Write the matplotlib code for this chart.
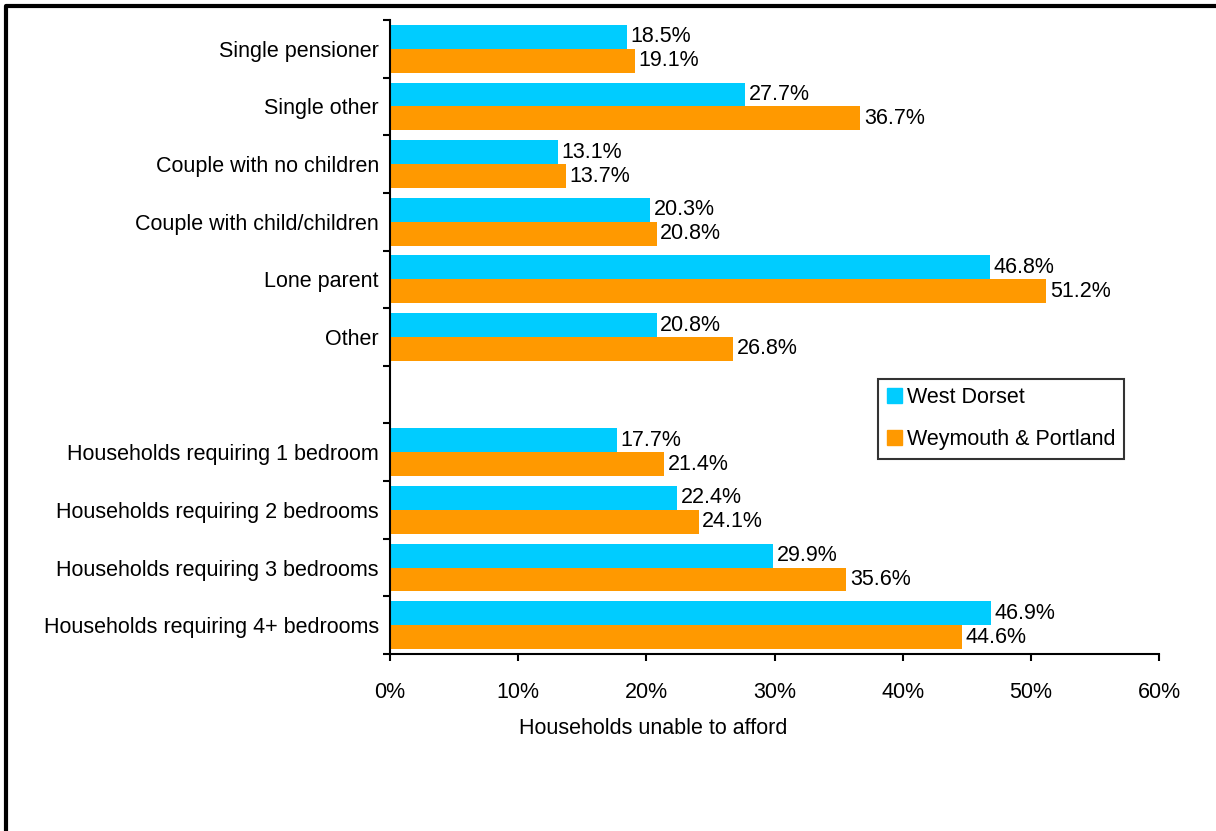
import os

os.environ.setdefault("MPLCONFIGDIR", "/tmp/matplotlib")

import matplotlib.pyplot as plt
import numpy as np
from matplotlib.lines import Line2D
from matplotlib.ticker import FixedLocator, FuncFormatter

# household groups; the empty entry leaves a gap between the two blocks
categories = [
    "Single pensioner",
    "Single other",
    "Couple with no children",
    "Couple with child/children",
    "Lone parent",
    "Other",
    "",
    "Households requiring 1 bedroom",
    "Households requiring 2 bedrooms",
    "Households requiring 3 bedrooms",
    "Households requiring 4+ bedrooms",
]
west_dorset = [18.5, 27.7, 13.1, 20.3, 46.8, 20.8, None, 17.7, 22.4, 29.9, 46.9]
weymouth = [19.1, 36.7, 13.7, 20.8, 51.2, 26.8, None, 21.4, 24.1, 35.6, 44.6]
series_names = ["West Dorset", "Weymouth & Portland"]
x_ticks = [0, 10, 20, 30, 40, 50, 60]

BLUE = "#00CCFF"
ORANGE = "#FF9900"
FS = 15.5

plt.rcParams["font.family"] = ["Liberation Sans", "DejaVu Sans"]

fig = plt.figure(figsize=(12.16, 8.31), dpi=100)
ax = fig.add_axes([390 / 1216, 1 - 654 / 831, (1159 - 390) / 1216, (654 - 20) / 831])

bar_h = 0.415
pos = np.arange(len(categories))
for i, (a, b) in enumerate(zip(west_dorset, weymouth)):
    if a is None:
        continue
    ax.barh(i - bar_h / 2, a, height=bar_h, color=BLUE, edgecolor="none")
    ax.barh(i + bar_h / 2, b, height=bar_h, color=ORANGE, edgecolor="none")
    ax.annotate(f"{a:.1f}%", (a, i - bar_h / 2), xytext=(2.5, 0), textcoords="offset points",
                va="center", ha="left", fontsize=FS)
    ax.annotate(f"{b:.1f}%", (b, i + bar_h / 2), xytext=(2.5, 0), textcoords="offset points",
                va="center", ha="left", fontsize=FS)

ax.set_xlim(0, 60)
ax.set_ylim(len(categories) - 0.5, -0.5)
ax.xaxis.set_major_locator(FixedLocator(x_ticks))
ax.xaxis.set_major_formatter(FuncFormatter(lambda v, p: f"{v:.0f}%"))
ax.set_yticks(pos)
ax.set_yticklabels(categories)
ax.yaxis.set_minor_locator(FixedLocator(np.arange(len(categories) + 1) - 0.5))
ax.tick_params(axis="y", which="major", length=0, pad=8, labelsize=FS)
ax.tick_params(axis="y", which="minor", length=5, width=1.5, direction="out")
ax.tick_params(axis="x", length=5, width=1.5, direction="out", pad=15, labelsize=FS)
for side in ("top", "right"):
    ax.spines[side].set_visible(False)
for side in ("left", "bottom"):
    ax.spines[side].set_linewidth(1.5)
ax.set_xlabel("Households unable to afford", fontsize=FS)
ax.xaxis.set_label_coords(0.342, -0.101)

handles = [plt.Rectangle((0, 0), 1, 1, color=c) for c in (BLUE, ORANGE)]
leg = ax.legend(handles, series_names, loc="upper left", bbox_to_anchor=(0.635, 0.434),
                fontsize=FS, frameon=True, fancybox=False, edgecolor="black",
                handlelength=0.7, handleheight=0.7, handletextpad=0.25,
                borderpad=0.4, labelspacing=0.95, borderaxespad=0)
leg.get_frame().set_linewidth(1.5)

# outer frame along the left and top edges
fig.add_artist(Line2D([6 / 1216, 6 / 1216, 1.0], [0.0, 1 - 6 / 831, 1 - 6 / 831],
                      transform=fig.transFigure, color="black", linewidth=3))

fig.savefig("out.png", dpi=100)
